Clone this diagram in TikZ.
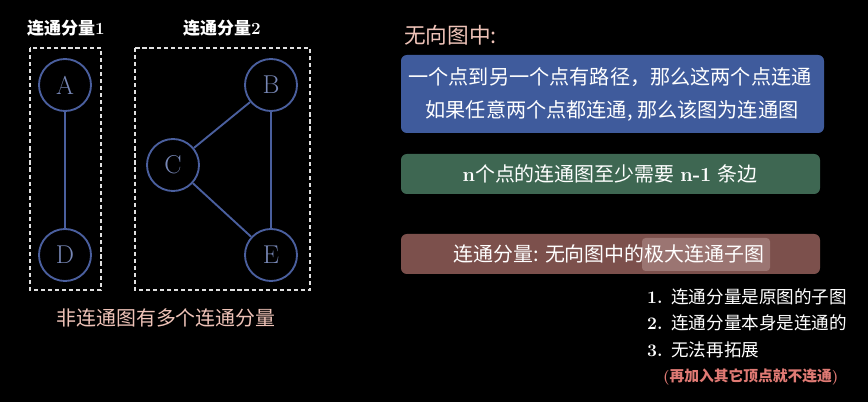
\documentclass[tikz,border=0pt]{standalone}
\usepackage{fontspec}
\newfontfamily\cjk{Noto Sans CJK SC}
\usetikzlibrary{calc}

\definecolor{nodeblue}{HTML}{4A5F9E}
\definecolor{boxblue}{HTML}{3F5B9C}
\definecolor{boxgreen}{HTML}{3E6752}
\definecolor{boxred}{HTML}{7C504C}
\definecolor{hilite}{HTML}{9B7572}
\definecolor{pinktxt}{HTML}{EFC3B8}
\definecolor{redtxt}{HTML}{E07A74}

\begin{document}
\begin{tikzpicture}[x=0.03cm,y=-0.03cm,
    vertex/.style={draw=nodeblue,line width=1.6pt,circle,minimum size=1.56cm,inner sep=0pt,
      text=nodeblue!75!white,font=\fontsize{22}{24}\selectfont},
    edge/.style={nodeblue,line width=1.6pt},
    group/.style={white!88!black,line width=1.2pt,dash pattern=on 3.5pt off 2.5pt},
    panel/.style={rounded corners=5pt},
    txt/.style={text=white,font=\fontsize{17}{19}\selectfont}]
    \fill[black] (0,0) rectangle (868,402);
    % left: two components
    \node[txt,font=\fontsize{14.5}{16}\selectfont\bfseries] (lab1) at (66,28) {{\cjk\bfseries 连通分量}1};
    \node[txt,font=\fontsize{14.5}{16}\selectfont\bfseries] (lab2) at (222,28) {{\cjk\bfseries 连通分量}2};
    \draw[group] (30,48) rectangle (101,290);
    \draw[group] (135,48) rectangle (310,290);
    \node[vertex] (A) at (65,85) {A};
    \node[vertex] (D) at (65,255) {D};
    \node[vertex] (B) at (271,85) {B};
    \node[vertex] (C) at (173,165) {C};
    \node[vertex] (E) at (271,255) {E};
    \draw[edge] (A) -- (D);
    \draw[edge] (B) -- (C);
    \draw[edge] (C) -- (E);
    \draw[edge] (B) -- (E);
    \node[txt,text=pinktxt,font=\fontsize{17}{19}\selectfont\cjk] (note) at (166,318) {非连通图有多个连通分量};
    % right: definitions
    \node[txt,text=pinktxt,anchor=west,font=\fontsize{18.5}{20}\selectfont\cjk] (title) at (400,35) {无向图中:};
    \fill[boxblue,panel] (401,55) rectangle (824,133);
    \node[txt,font=\fontsize{17.2}{19}\selectfont\cjk] (def1) at (610,77) {一个点到另一个点有路径，那么这两个点连通};
    \node[txt,font=\fontsize{17.2}{19}\selectfont\cjk] (def2) at (612,111) {如果任意两个点都连通, 那么该图为连通图};
    \fill[boxgreen,panel] (401,154) rectangle (820,194);
    \node[txt] (edges) at (610,174) {\textbf{n}{\cjk 个点的连通图至少需要} \textbf{n-1} {\cjk 条边}};
    \fill[boxred,panel] (401,234) rectangle (820,274);
    \fill[hilite,rounded corners=3pt] (642,238) rectangle (770,271);
    \node[txt,font=\fontsize{17}{19}\selectfont\cjk] (comp) at (609,254) {连通分量: 无向图中的极大连通子图};
    % properties
    \node[txt,anchor=west,font=\fontsize{15}{17}\selectfont\bfseries] (p1) at (643,297) {1. {\cjk\mdseries 连通分量是原图的子图}};
    \node[txt,anchor=west,font=\fontsize{15}{17}\selectfont\bfseries] (p2) at (643,323) {2. {\cjk\mdseries 连通分量本身是连通的}};
    \node[txt,anchor=west,font=\fontsize{15}{17}\selectfont\bfseries] (p3) at (643,350) {3. {\cjk\mdseries 无法再拓展}};
    \node[txt,text=redtxt,anchor=west,font=\fontsize{12.6}{14}\selectfont] (p4) at (659,377) {\textbf{(}{\cjk\bfseries 再加入其它顶点就不连通}\textbf{)}};
\end{tikzpicture}
\end{document}
